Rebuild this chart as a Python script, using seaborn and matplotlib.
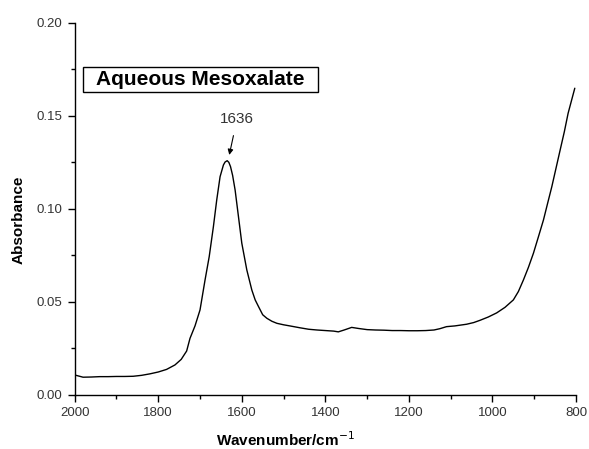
import numpy as np
import matplotlib
matplotlib.use("Agg")
import matplotlib.pyplot as plt
import seaborn as sns
from matplotlib.ticker import MultipleLocator
from matplotlib.patches import Rectangle

# spectrum (wavenumber in cm-1, absorbance)
wavenumber = [2000, 1990, 1980, 1960, 1940, 1920, 1900, 1880, 1860, 1840,
              1820, 1800, 1780, 1760, 1745, 1732, 1724, 1712, 1700, 1688,
              1678, 1668, 1660, 1652, 1644, 1640, 1635, 1631, 1627, 1622,
              1616, 1608, 1600, 1588, 1576, 1568, 1560, 1550, 1540, 1528,
              1516, 1500, 1485, 1461, 1440, 1420, 1400, 1380, 1369, 1355,
              1337, 1320, 1300, 1280, 1260, 1240, 1220, 1200, 1180, 1160,
              1140, 1126, 1110, 1090, 1062, 1045, 1030, 1010, 990, 970, 950,
              938, 926, 914, 902, 890, 878, 868, 858, 848, 838, 828, 819, 810,
              803]
absorbance = [0.0106, 0.0100, 0.0094, 0.0095, 0.0097, 0.0097, 0.0098, 0.0098,
              0.0099, 0.0104, 0.0112, 0.0122, 0.0136, 0.0160, 0.0190, 0.0235,
              0.0303, 0.0370, 0.0456, 0.0617, 0.0743, 0.0904, 0.1048, 0.1173,
              0.1236, 0.1252, 0.1259, 0.1250, 0.1227, 0.1180, 0.1101, 0.0958,
              0.0815, 0.0671, 0.0563, 0.0510, 0.0474, 0.0430, 0.0411, 0.0395,
              0.0384, 0.0376, 0.0370, 0.0360, 0.0352, 0.0348, 0.0345, 0.0342,
              0.0338, 0.0348, 0.0362, 0.0356, 0.0350, 0.0348, 0.0347, 0.0345,
              0.0345, 0.0344, 0.0344, 0.0345, 0.0348, 0.0355, 0.0366, 0.0370,
              0.0379, 0.0388, 0.0400, 0.0418, 0.0440, 0.0470, 0.0510, 0.0555,
              0.0617, 0.0685, 0.0761, 0.0850, 0.0940, 0.1030, 0.1119, 0.1218,
              0.1317, 0.1415, 0.1514, 0.1590, 0.1649]

title_text = "Aqueous Mesoxalate"
peak_label = "1636"

sns.set_style("ticks")
plt.rcParams['font.family'] = ['Liberation Sans', 'DejaVu Sans']

fig = plt.figure(figsize=(5.89, 4.49), dpi=100)
ax = fig.add_axes([0.1268, 0.121, 0.8512, 0.8278])

sns.lineplot(x=wavenumber, y=absorbance, ax=ax, color="black", linewidth=1.0)

ax.set_xlim(2000, 800)
ax.set_ylim(0, 0.20)
ax.xaxis.set_major_locator(MultipleLocator(200))
ax.xaxis.set_minor_locator(MultipleLocator(100))
ax.yaxis.set_major_locator(MultipleLocator(0.05))
ax.yaxis.set_minor_locator(MultipleLocator(0.025))
ax.yaxis.set_major_formatter(plt.FuncFormatter(lambda v, p: f"{v:.2f}"))
sns.despine(ax=ax)
for s in ["left", "bottom"]:
    ax.spines[s].set_linewidth(1.0)
    ax.spines[s].set_color("black")
ax.tick_params(which="both", color="black")
ax.tick_params(which="major", length=5, width=1, direction="out",
               labelsize=9.5, labelcolor="#333333", pad=4)
ax.tick_params(which="minor", length=3, width=1, direction="out")

ax.set_xlabel("Wavenumber/cm$^{-1}$", fontsize=11, fontweight="bold", color="black")
ax.set_ylabel("Absorbance", fontsize=11, fontweight="bold", color="black")
ax.xaxis.set_label_coords(0.42, -0.095)
ax.yaxis.set_label_coords(-0.097, 0.47)

# title box
ax.add_patch(Rectangle((0.0166, 0.8136), 0.4687, 0.0688, transform=ax.transAxes,
                       fc="white", ec="black", lw=1, zorder=3))
ax.text(0.251, 0.848, title_text, transform=ax.transAxes, fontsize=15,
        fontweight="bold", color="black", ha="center", va="center", zorder=4)

ax.text(1612, 0.1446, peak_label, fontsize=11, color="#333333",
        ha="center", va="bottom")
ax.annotate("", xy=(1630, 0.129), xytext=(1620, 0.1394),
            arrowprops=dict(arrowstyle="-|>", color="black", lw=0.8,
                            mutation_scale=8, shrinkA=0, shrinkB=0))

fig.savefig("out.png", dpi=100)
